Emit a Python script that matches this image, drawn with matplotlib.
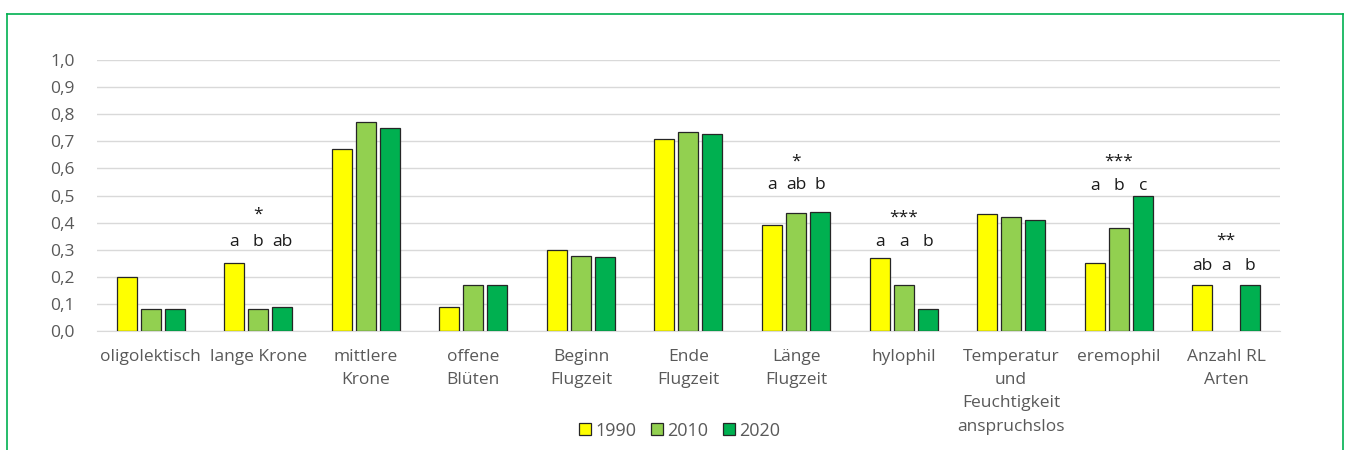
import numpy as np
import matplotlib.pyplot as plt
from matplotlib.patches import Patch

# categories and values per year
categories = ["oligolektisch", "lange Krone", "mittlere\nKrone", "offene\nBlüten",
              "Beginn\nFlugzeit", "Ende\nFlugzeit", "Länge\nFlugzeit", "hylophil",
              "Temperatur\nund\nFeuchtigkeit\nanspruchslos", "eremophil", "Anzahl RL\nArten"]
years = ["1990", "2010", "2020"]
v1990 = [0.20, 0.25, 0.67, 0.09, 0.30, 0.71, 0.39, 0.27, 0.43, 0.25, 0.17]
v2010 = [0.08, 0.08, 0.77, 0.17, 0.277, 0.733, 0.434, 0.17, 0.42, 0.38, 0.0]
v2020 = [0.08, 0.09, 0.75, 0.17, 0.274, 0.726, 0.439, 0.08, 0.41, 0.50, 0.17]
colors = ["#ffff00", "#92d050", "#00b050"]

# significance letters (category index -> letters, letter height, stars, star height)
sig_idx = [1, 6, 7, 9, 10]
sig_letters = [["a", "b", "ab"], ["a", "ab", "b"], ["a", "a", "b"], ["a", "b", "c"], ["ab", "a", "b"]]
letter_y = [0.33, 0.54, 0.33, 0.535, 0.24]
sig_stars = ["*", "*", "***", "***", "**"]
star_y = [0.43, 0.625, 0.42, 0.625, 0.335]

plt.rcParams['font.family'] = ['Open Sans', 'DejaVu Sans']

fig = plt.figure(figsize=(13.46, 4.5), dpi=100)
ax = fig.add_axes([0.072, 0.2644, 0.879, 0.6023])

x = np.arange(len(categories))
w = 0.186
step = 0.223
for k, vals in enumerate([v1990, v2010, v2020]):
    xs = x + (k - 1) * step
    hs = np.array(vals)
    keep = hs > 0
    ax.bar(xs[keep], hs[keep], width=w, color=colors[k], edgecolor="#262626",
           linewidth=0.9, zorder=3)

for i, letters, ly, st, sy in zip(sig_idx, sig_letters, letter_y, sig_stars, star_y):
    for k, lt in enumerate(letters):
        ax.text(x[i] + (k - 1) * step, ly, lt, ha="center", va="center",
                fontsize=12.5, color="#1a1a1a")
    ax.text(x[i], sy, st, ha="center", va="center", fontsize=12.5, color="#1a1a1a")

ax.set_xlim(-0.5, len(categories) - 0.5)
ax.set_ylim(0, 1.0)
ax.set_yticks(np.arange(0, 1.01, 0.1))
ax.set_yticklabels([f"{t:.1f}".replace(".", ",") for t in np.arange(0, 1.01, 0.1)])
ax.set_xticks(x)
ax.set_xticklabels(categories, linespacing=1.6, va="top")
ax.tick_params(axis="both", length=0, colors="#595959", labelsize=12.5)
ax.tick_params(axis="x", pad=13)
ax.tick_params(axis="y", pad=16)
ax.grid(axis="y", color="#d9d9d9", linewidth=1, zorder=0)
for s in ["top", "right", "left"]:
    ax.spines[s].set_visible(False)
ax.spines["bottom"].set_color("#d9d9d9")

handles = [Patch(facecolor=c, edgecolor="#262626", linewidth=0.9, label=y)
           for c, y in zip(colors, years)]
leg = fig.legend(handles=handles, loc="center", bbox_to_anchor=(0.505, 0.043), ncol=3,
                 frameon=False, fontsize=13, handlelength=0.65, handleheight=0.65,
                 handletextpad=0.25, columnspacing=0.8)
for t in leg.get_texts():
    t.set_color("#595959")

# green frame
fig.add_artist(plt.Line2D([7 / 1346, 7 / 1346], [0, 1 - 14 / 450], transform=fig.transFigure,
                          color="#00b050", linewidth=1.2))
fig.add_artist(plt.Line2D([7 / 1346, 1343 / 1346], [1 - 14 / 450, 1 - 14 / 450],
                          transform=fig.transFigure, color="#00b050", linewidth=1.2))
fig.add_artist(plt.Line2D([1343 / 1346, 1343 / 1346], [0, 1 - 14 / 450],
                          transform=fig.transFigure, color="#00b050", linewidth=1.2))

fig.savefig("out.png", dpi=100)
